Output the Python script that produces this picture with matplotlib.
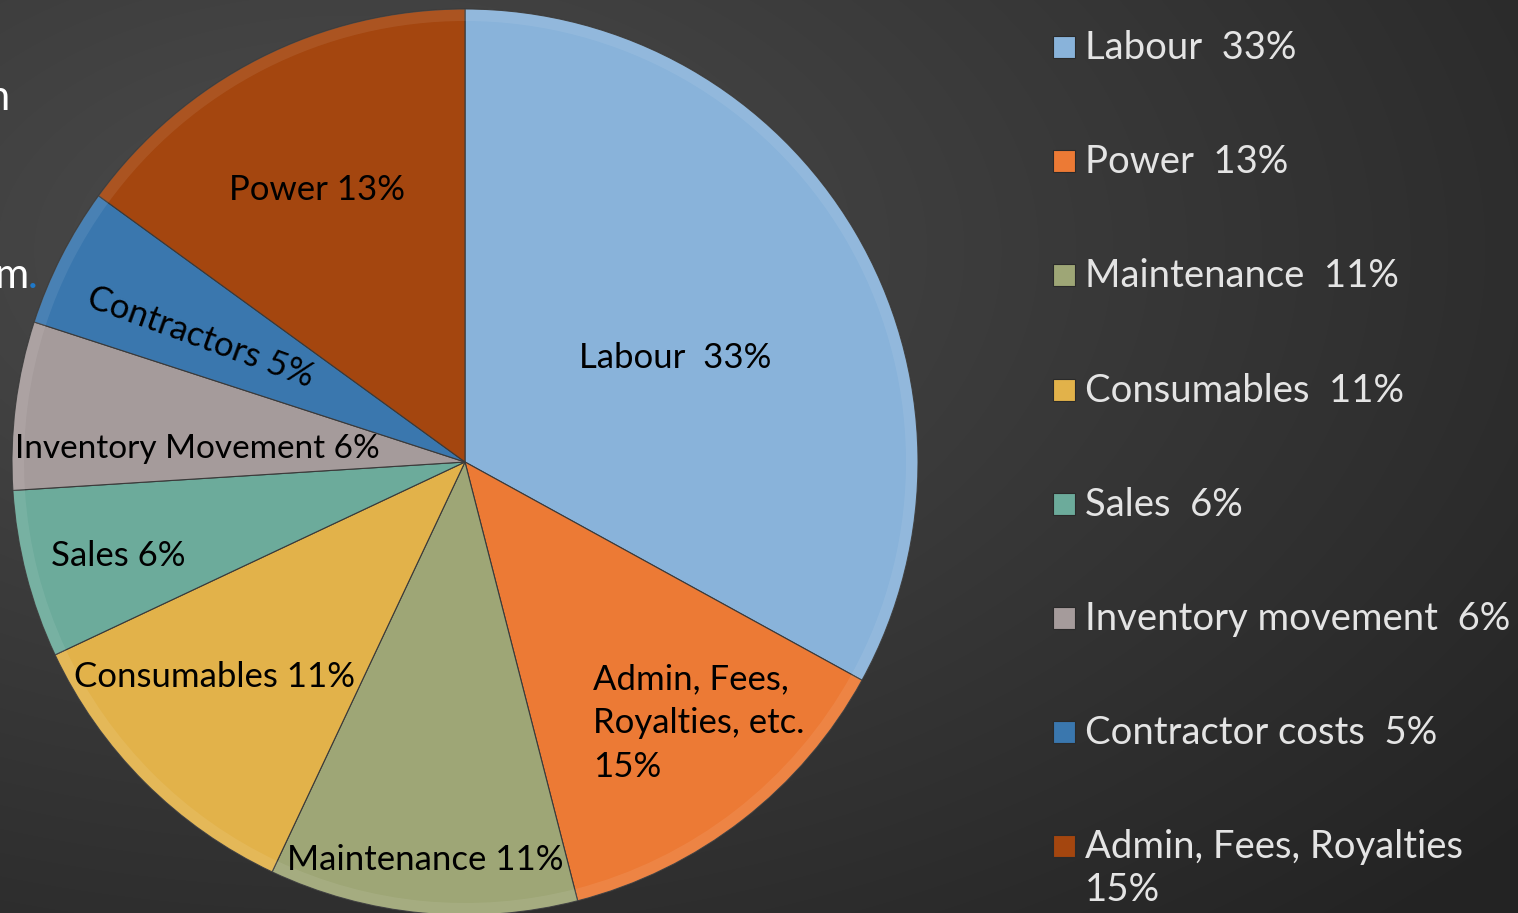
import numpy as np
import matplotlib
matplotlib.use('Agg')
import matplotlib.pyplot as plt
from matplotlib.patches import Rectangle

# data (taken from the legend)
categories = ['Labour', 'Power', 'Maintenance', 'Consumables', 'Sales',
              'Inventory movement', 'Contractor costs', 'Admin, Fees, Royalties']
shares = [33, 13, 11, 11, 6, 6, 5, 15]
colors = ['#89b3da', '#ec7a35', '#9ea676', '#e2b24a', '#6cab9b',
          '#a59b9b', '#3a77ae', '#a4460f']

# labels typed on the slices (same order as the slices)
slice_labels = ['Labour  33%', 'Admin, Fees,\nRoyalties, etc.\n15%', 'Maintenance 11%',
                'Consumables 11%', 'Sales 6%', 'Inventory Movement 6%',
                'Contractors 5%', 'Power 13%']

W, H = 1518, 913
plt.rcParams['font.family'] = ['Lato', 'DejaVu Sans']

fig = plt.figure(figsize=(W / 100, H / 100), dpi=100)

# background gradient
bg = fig.add_axes([0, 0, 1, 1])
yy, xx = np.mgrid[0:H, 0:W]
d = np.hypot((xx - 350) / W, (yy - 250) / H)
shade = 0.30 - 0.16 * np.clip(d / 1.0, 0, 1)
img = np.dstack([shade, shade, shade])
bg.imshow(img, extent=[0, W, 0, H], aspect='auto', origin='upper')
bg.axis('off')

ax = fig.add_axes([0, 0, 1, 1])
ax.patch.set_alpha(0)
cx, cy, r = 465, H - 462, 453
wedges, _ = ax.pie(shares, colors=colors, startangle=90, counterclock=False,
                   center=(cx, cy), radius=r,
                   wedgeprops=dict(edgecolor='#3a3a3a', linewidth=0.8))
# soft highlight near rim
ax.pie(shares, colors=['white'] * len(shares), startangle=90, counterclock=False,
       center=(cx, cy), radius=r,
       wedgeprops=dict(width=12, alpha=0.08, linewidth=0))
ax.set_xlim(0, W)
ax.set_ylim(0, H)
ax.set_aspect('equal')
ax.axis('off')


def px(x, y):
    return x, H - y


fs = 25
# slice labels
ax.text(*px(675, 358), slice_labels[0], fontsize=fs, ha='center', va='center', color='black')
ax.text(*px(593, 723), slice_labels[1], fontsize=fs, ha='left', va='center',
        color='black', linespacing=1.45)
ax.text(*px(425, 860), slice_labels[2], fontsize=fs, ha='center', va='center', color='black')
ax.text(*px(215, 677), slice_labels[3], fontsize=fs, ha='center', va='center', color='black')
ax.text(*px(118, 556), slice_labels[4], fontsize=fs, ha='center', va='center', color='black')
ax.text(*px(197, 449), slice_labels[5], fontsize=24, ha='center', va='center', color='black')
ax.text(*px(200, 337), slice_labels[6], fontsize=fs, ha='center', va='center',
        color='black', rotation=-20, rotation_mode='anchor')
ax.text(*px(317, 190), slice_labels[7], fontsize=fs, ha='center', va='center', color='black')

# legend drawn by hand
lfs = 27.5
for i, (name, v, c) in enumerate(zip(categories, shares, colors)):
    yb = 59 + i * 114.2
    ax.add_patch(Rectangle(px(1053, yb - 1), 22, 22, facecolor=c,
                           edgecolor='#2a2a2a', linewidth=0.8))
    if len(name) > 20:
        ax.text(*px(1085, yb), name, fontsize=lfs, ha='left', va='baseline', color='#e4e4e4')
        ax.text(*px(1085, yb + 43), f'{v}%', fontsize=lfs, ha='left', va='baseline', color='#e4e4e4')
    else:
        ax.text(*px(1085, yb), f'{name}  {v}%', fontsize=lfs, ha='left', va='baseline',
                color='#e4e4e4')

# leftovers of slide text cut at the left edge
ax.text(*px(-14, 110), 'n', fontsize=30, color='white', ha='left', va='baseline')
ax.text(*px(-6, 288), 'm', fontsize=30, color='white', ha='left', va='baseline')
ax.text(*px(28, 288), '.', fontsize=30, color='#1f78c8', ha='left', va='baseline')

fig.savefig('out.png', dpi=100)
